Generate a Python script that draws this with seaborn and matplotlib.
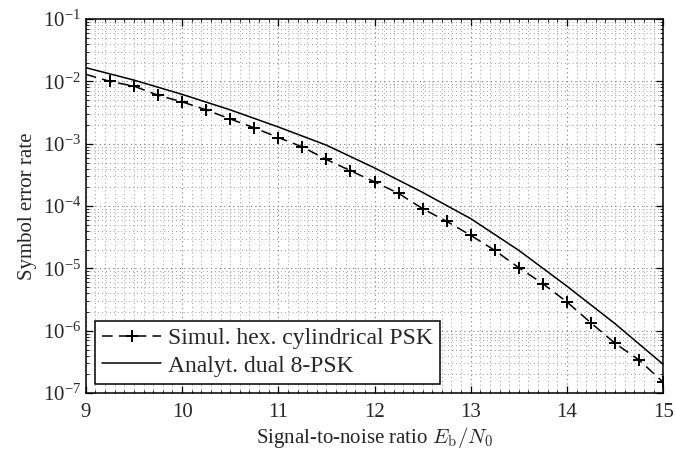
import numpy as np
import pandas as pd
import matplotlib
matplotlib.use("Agg")
import matplotlib.pyplot as plt
import matplotlib.ticker as mticker
import seaborn as sns

# Simulated hexagonal cylindrical PSK
sim_snr = [9.0, 9.25, 9.5, 9.75, 10.0, 10.25, 10.5, 10.75, 11.0, 11.25, 11.5, 11.75,
           12.0, 12.25, 12.5, 12.75, 13.0, 13.25, 13.5, 13.75, 14.0, 14.25, 14.5, 14.75, 15.0]
sim_ser = [1.3e-2, 1.0e-2, 8.4e-3, 6.0e-3, 4.7e-3, 3.5e-3, 2.5e-3, 1.8e-3, 1.26e-3, 8.9e-4,
           5.6e-4, 3.7e-4, 2.45e-4, 1.6e-4, 9.1e-5, 5.7e-5, 3.4e-5, 1.95e-5, 1.03e-5, 5.7e-6,
           2.9e-6, 1.34e-6, 6.3e-7, 3.4e-7, 1.5e-7]

# Analytical dual 8-PSK
ana_snr = [9.0, 9.5, 10.0, 10.5, 11.0, 11.5, 12.0, 12.5, 13.0, 13.5, 14.0, 14.5, 15.0]
ana_ser = [1.66e-2, 1.05e-2, 6.2e-3, 3.5e-3, 1.86e-3, 9.5e-4, 4.1e-4, 1.66e-4, 6.3e-5,
           1.95e-5, 5.2e-6, 1.3e-6, 2.9e-7]

labels = ["Simul. hex. cylindrical PSK", "Analyt. dual 8-PSK"]

sns.set_theme(style="ticks")
plt.rcParams["font.family"] = ["Liberation Serif", "DejaVu Serif"]
plt.rcParams["mathtext.fontset"] = "cm"
plt.rcParams["font.size"] = 12.5

fig = plt.figure(figsize=(6.76, 4.54), dpi=100)
ax = fig.add_axes([0.127, 0.134, 0.854, 0.824])

sim_df = pd.DataFrame({"snr": sim_snr, "ser": sim_ser})
ana_df = pd.DataFrame({"snr": ana_snr, "ser": ana_ser})

sns.lineplot(data=sim_df, x="snr", y="ser", ax=ax, color="black", lw=1.1,
             linestyle=(0, (7, 4)), marker="+", markersize=9, markeredgewidth=1.4,
             markeredgecolor="black", markerfacecolor="black",
             markevery=slice(1, None), label=labels[0])
sns.lineplot(data=ana_df, x="snr", y="ser", ax=ax, color="black", lw=1.1,
             label=labels[1])

ax.set_yscale("log")
ax.set_xlim(9, 15)
ax.set_ylim(1e-7, 1e-1)
ax.xaxis.set_major_locator(mticker.MultipleLocator(1))
ax.xaxis.set_minor_locator(mticker.MultipleLocator(0.1))
ax.yaxis.set_major_locator(mticker.LogLocator(base=10, numticks=10))
ax.yaxis.set_minor_locator(mticker.LogLocator(base=10, subs=np.arange(2, 10), numticks=20))
ax.yaxis.set_minor_formatter(mticker.NullFormatter())

ax.grid(True, which="major", linestyle=(0, (1, 3)), color="#777777", lw=0.8)
ax.grid(True, which="minor", linestyle=(0, (1, 3)), color="#999999", lw=0.7)
ax.set_axisbelow(True)

ax.tick_params(which="both", direction="in", top=True, right=True, labelsize=15,
               color="black")
ax.tick_params(axis="x", which="major", pad=7)
ax.tick_params(which="major", length=5, width=0.9)
ax.tick_params(which="minor", length=2.5, width=0.6)
for s in ax.spines.values():
    s.set_color("black")
    s.set_linewidth(1.1)

ax.set_xlabel(r"Signal-to-noise ratio $E_\mathrm{b}/N_0$", fontsize=15, labelpad=2)
ax.set_ylabel("Symbol error rate", fontsize=15, labelpad=4)

leg = ax.legend(loc="lower left", fontsize=17, frameon=True, fancybox=False,
                edgecolor="black", framealpha=1, borderpad=0.3, handlelength=2.5,
                handletextpad=0.3, labelspacing=0.25, borderaxespad=0.4)
leg.get_frame().set_linewidth(1.1)

fig.savefig("out.png", dpi=100)
